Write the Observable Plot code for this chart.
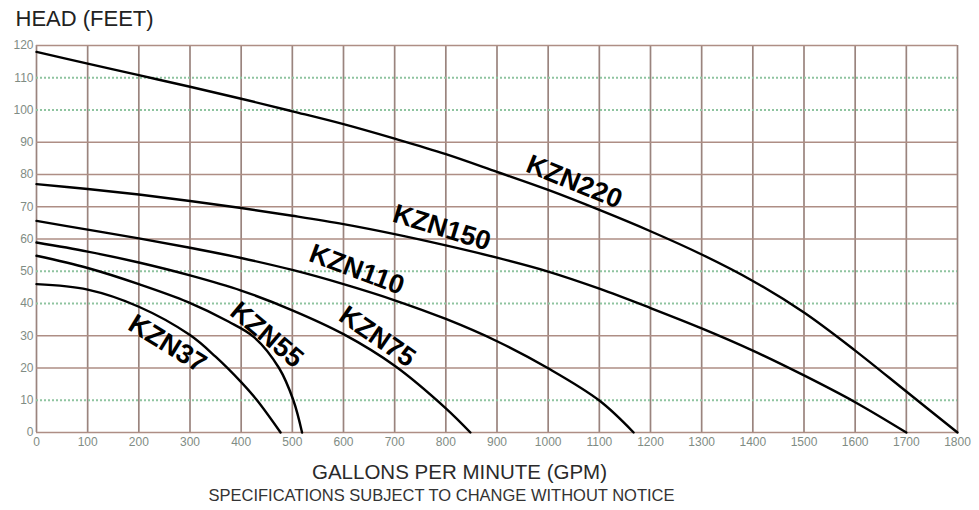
<!DOCTYPE html>
<html>
<head>
<meta charset="utf-8">
<script src="https://cdn.jsdelivr.net/npm/d3@7"></script>
<script src="https://cdn.jsdelivr.net/npm/@observablehq/plot@0.6"></script>
<style>
  html, body { margin: 0; padding: 0; background: #fff; }
  #chart { width: 979px; height: 510px; }
</style>
</head>
<body>
<div id="chart"></div>
<script>
// ---- data ----
const models = ["KZN220", "KZN150", "KZN110", "KZN75", "KZN55", "KZN37"];

const kzn220Gpm  = [0, 100, 200, 300, 400, 500, 600, 700, 800, 900, 1000, 1100, 1200, 1300, 1400, 1500, 1600, 1700, 1800];
const kzn220Head = [118, 114.4, 110.8, 107.2, 103.5, 99.6, 95.6, 91.1, 86.3, 80.8, 75.2, 69, 62.4, 55.2, 47, 37.2, 25.4, 12.7, 0];

const kzn150Gpm  = [0, 100, 200, 300, 400, 500, 600, 700, 800, 900, 1000, 1100, 1200, 1300, 1400, 1500, 1600, 1700];
const kzn150Head = [77, 75.5, 73.8, 71.8, 69.6, 67.2, 64.6, 61.5, 58, 54.2, 49.9, 44.6, 38.6, 32.3, 25.4, 17.7, 9.4, 0];

const kzn110Gpm  = [0, 100, 200, 300, 400, 500, 600, 700, 800, 900, 1000, 1100, 1167];
const kzn110Head = [65.6, 62.9, 60.2, 57.3, 54.1, 50.4, 46, 41, 35.2, 28.3, 19.9, 9.9, 0];

const kzn75Gpm  = [0, 100, 200, 300, 400, 500, 600, 700, 800, 848];
const kzn75Head = [58.9, 56.1, 52.7, 48.7, 44, 37.9, 30.5, 20.7, 7.5, 0];

const kzn55Gpm  = [0, 100, 200, 295, 375, 425, 474, 502, 519];
const kzn55Head = [54.8, 51, 46, 40.5, 34.4, 29.6, 20, 10, 0];

const kzn37Gpm  = [0, 100, 200, 300, 350, 400, 431, 477];
const kzn37Head = [46, 44.3, 39, 30.2, 23.5, 15.6, 10, 0];

// label anchors (data coordinates) and rotation
const labelGpm   = [1051, 792, 626, 666, 450, 256];
const labelHead  = [77.7, 63.5, 50.5, 29.7, 30.3, 27.5];
const labelAngle = [22, 17, 20.5, 34.5, 40, 31.5];

const xTicks = [0, 100, 200, 300, 400, 500, 600, 700, 800, 900, 1000, 1100, 1200, 1300, 1400, 1500, 1600, 1700, 1800];
const yTicks = [0, 10, 20, 30, 40, 50, 60, 70, 80, 90, 100, 110, 120];
const yGreen = [10, 40, 50, 100, 110];

const titleText = "HEAD (FEET)";
const xLabelText = "GALLONS PER MINUTE (GPM)";
const captionText = "SPECIFICATIONS SUBJECT TO CHANGE WITHOUT NOTICE";

// ---- build table ----
const series = [
  [kzn220Gpm, kzn220Head], [kzn150Gpm, kzn150Head], [kzn110Gpm, kzn110Head],
  [kzn75Gpm, kzn75Head], [kzn55Gpm, kzn55Head], [kzn37Gpm, kzn37Head]
];
const curves = [];
series.forEach(([g, h], i) => g.forEach((v, j) => curves.push({model: models[i], gpm: v, head: h[j]})));
const labels = models.map((m, i) => ({model: m, gpm: labelGpm[i], head: labelHead[i], angle: labelAngle[i]}));

const font = "'Liberation Sans', Arial, sans-serif";

const chart = Plot.plot({
  width: 979,
  height: 510,
  marginLeft: 36,
  marginRight: 22,
  marginTop: 45,
  marginBottom: 78,
  style: {fontFamily: font, background: "#fff", color: "#7f8c84", overflow: "visible"},
  x: {domain: [0, 1800]},
  y: {domain: [0, 120]},
  marks: [
    // grid
    Plot.ruleX(xTicks, {x: d => d, stroke: "#9a847e", strokeWidth: 1.7}),
    Plot.ruleY(yTicks.filter(d => !yGreen.includes(d)), {y: d => d, stroke: "#ae8e85", strokeWidth: 1.7}),
    Plot.ruleY(yGreen, {y: d => d, stroke: "#8fc4a0", strokeWidth: 2, strokeDasharray: "2,2"}),
    // axes
    Plot.axisX(xTicks, {tickSize: 0, tickPadding: 5, fontSize: 12, label: null, fill: "#7f8c84",
      tickFormat: d => String(d), style: "letter-spacing:0.8px"}),
    Plot.axisY(yTicks, {tickSize: 0, tickPadding: 3, fontSize: 12, label: null, fill: "#7f8c84",
      tickFormat: d => String(d), style: "letter-spacing:0.8px"}),
    // curves
    Plot.line(curves, {x: "gpm", y: "head", z: "model", curve: "catmull-rom", stroke: "#000", strokeWidth: 2.4}),
    // curve labels
    Plot.text(labels, {x: "gpm", y: "head", text: "model", rotate: "angle", fontSize: 27, fontWeight: "bold",
      fill: "#000", textAnchor: "middle", lineAnchor: "middle", style: "letter-spacing:2.5px"}),
    // titles
    Plot.text([titleText], {frameAnchor: "top-left", text: d => d, dx: -21, dy: -27, textAnchor: "start",
      lineAnchor: "middle", fontSize: 22, fill: "#222", style: "letter-spacing:1.2px"}),
    Plot.text([xLabelText], {frameAnchor: "bottom", text: d => d, dx: -37.5, dy: 40, textAnchor: "middle",
      lineAnchor: "middle", fontSize: 20.5, fill: "#2a2a2a"}),
    Plot.text([captionText], {frameAnchor: "bottom", text: d => d, dx: -55.5, dy: 63, textAnchor: "middle",
      lineAnchor: "middle", fontSize: 16.5, fill: "#333"})
  ]
});
document.getElementById("chart").appendChild(chart);
</script>
</body>
</html>
